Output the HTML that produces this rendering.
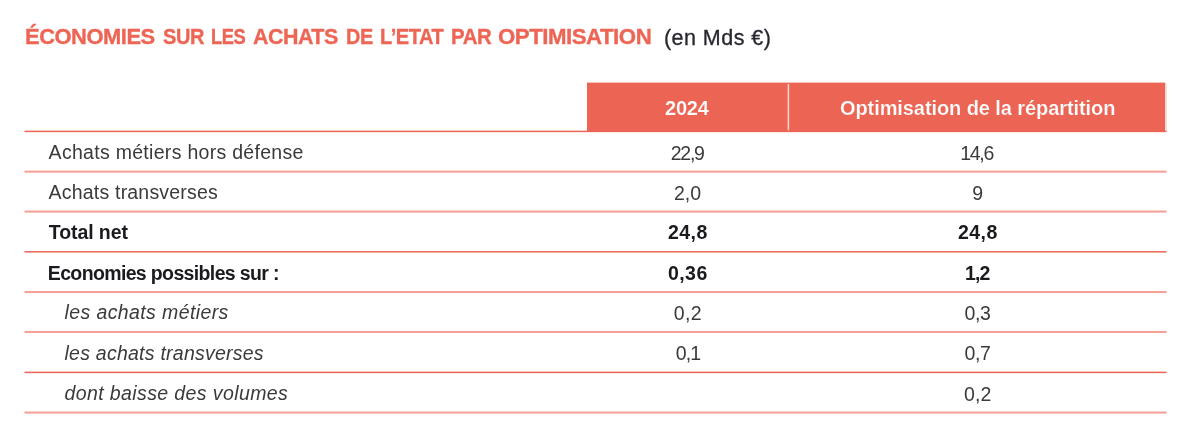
<!DOCTYPE html>
<html><head><meta charset="utf-8">
<style>
html,body{margin:0;padding:0;background:#fff;}
body{width:1200px;height:437px;position:relative;overflow:hidden;font-family:"Liberation Sans",sans-serif;}
svg{position:absolute;left:0;top:0;filter:blur(0.3px);}
.t{filter:blur(0.4px);}
.t{position:absolute;white-space:nowrap;line-height:20px;font-size:20px;color:#3a3a3d;}
.i{font-style:italic;}
.b{font-weight:bold;color:#1b1b1f;}
.h{color:#fff;font-weight:bold;-webkit-text-stroke:0.2px #ec6454;}
.tb{font-weight:bold;color:#ed6655;-webkit-text-stroke:0.35px #ed6655;}
.tu{color:#26262e;-webkit-text-stroke:0.3px #26262e;}
</style></head><body>
<svg width="1200" height="437" viewBox="0 0 1200 437">
<rect x="587" y="82.6" width="578.3" height="49" fill="#ec6454"/>
<rect x="1165.3" y="83.5" width="1.7" height="47" fill="#fbdcd7"/>
<rect x="787.6" y="84" width="1.6" height="46.5" fill="#f9cfc9"/>
<rect x="24.5" y="130.65" width="1142" height="1.5" fill="#ec6454"/>
<rect x="24.5" y="251.0" width="1142" height="1.6" fill="#ee6f5f"/>
<rect x="24.5" y="371.65" width="1142" height="1.5" fill="#ec6454"/>
<g fill="#f4a197">
<rect x="24.5" y="170.6" width="1142" height="2.1"/>
<rect x="24.5" y="210.5" width="1142" height="2.1"/>
<rect x="24.5" y="291.0" width="1142" height="2.1"/>
<rect x="24.5" y="330.9" width="1142" height="2.1"/>
<rect x="24.5" y="411.5" width="1142" height="2.1"/>
</g>
</svg>
<div class="t tb" style="left:25.08px;top:27px;font-size:22.5px;letter-spacing:-0.5px;transform:scaleX(0.9750);transform-origin:0 0;">ÉCONOMIES</div>
<div class="t tb" style="left:163.00px;top:27px;font-size:22.5px;letter-spacing:-0.5px;transform:scaleX(0.8891);transform-origin:0 0;">SUR</div>
<div class="t tb" style="left:211.09px;top:27px;font-size:22.5px;letter-spacing:-0.5px;transform:scaleX(0.8146);transform-origin:0 0;">LES</div>
<div class="t tb" style="left:253.20px;top:27px;font-size:22.5px;letter-spacing:-0.5px;transform:scaleX(0.9517);transform-origin:0 0;">ACHATS</div>
<div class="t tb" style="left:345.82px;top:27px;font-size:22.5px;letter-spacing:-0.5px;transform:scaleX(0.8828);transform-origin:0 0;">DE</div>
<div class="t tb" style="left:380.11px;top:27px;font-size:22.5px;letter-spacing:-0.5px;transform:scaleX(0.8908);transform-origin:0 0;">L’ETAT</div>
<div class="t tb" style="left:451.04px;top:27px;font-size:22.5px;letter-spacing:-0.5px;transform:scaleX(0.9081);transform-origin:0 0;">PAR</div>
<div class="t tb" style="left:498.30px;top:27px;font-size:22.5px;letter-spacing:-0.5px;transform:scaleX(0.9896);transform-origin:0 0;">OPTIMISATION</div>

<div class="t tu" style="left:663.90px;top:28.00px;font-size:21.5px;letter-spacing:0.480px;">(en Mds €)</div>
<div class="t h" style="left:665.10px;top:98.00px;font-size:20px;letter-spacing:-0.267px;">2024</div>
<div class="t h" style="left:840.00px;top:98.00px;font-size:20px;letter-spacing:-0.083px;">Optimisation de la répartition</div>
<div class="t r" style="left:48.60px;top:142.00px;font-size:19.5px;letter-spacing:0.295px;">Achats métiers hors défense</div>
<div class="t r" style="left:670.80px;top:143.00px;font-size:19.5px;letter-spacing:-1.273px;">22,9</div>
<div class="t r" style="left:960.20px;top:143.00px;font-size:19.5px;letter-spacing:-1.300px;">14,6</div>
<div class="t r" style="left:48.60px;top:182.00px;font-size:19.5px;letter-spacing:0.198px;">Achats transverses</div>
<div class="t r" style="left:674.10px;top:183.00px;font-size:19.5px;letter-spacing:-0.080px;">2,0</div>
<div class="t r" style="left:972.20px;top:183.00px;font-size:19.5px;letter-spacing:0.000px;">9</div>
<div class="t b" style="left:48.80px;top:222.00px;font-size:19.5px;letter-spacing:-0.080px;">Total net</div>
<div class="t b" style="left:668.00px;top:222.00px;font-size:19.5px;letter-spacing:0.427px;">24,8</div>
<div class="t b" style="left:958.00px;top:222.00px;font-size:19.5px;letter-spacing:0.427px;">24,8</div>
<div class="t b" style="left:47.80px;top:263.00px;font-size:19.5px;letter-spacing:-0.640px;">Economies possibles sur :</div>
<div class="t b" style="left:668.00px;top:263.00px;font-size:19.5px;letter-spacing:0.427px;">0,36</div>
<div class="t b" style="left:965.10px;top:263.00px;font-size:19.5px;letter-spacing:-0.900px;">1,2</div>
<div class="t i" style="left:64.50px;top:302.00px;font-size:19.5px;letter-spacing:0.395px;">les achats métiers</div>
<div class="t r" style="left:673.70px;top:303.00px;font-size:19.5px;letter-spacing:0.400px;">0,2</div>
<div class="t r" style="left:964.50px;top:303.00px;font-size:19.5px;letter-spacing:-0.320px;">0,3</div>
<div class="t i" style="left:64.50px;top:343.00px;font-size:19.5px;letter-spacing:0.244px;">les achats transverses</div>
<div class="t r" style="left:675.70px;top:343.00px;font-size:19.5px;letter-spacing:-0.900px;">0,1</div>
<div class="t r" style="left:964.50px;top:343.00px;font-size:19.5px;letter-spacing:-0.320px;">0,7</div>
<div class="t i" style="left:64.50px;top:383.00px;font-size:19.5px;letter-spacing:0.393px;">dont baisse des volumes</div>
<div class="t r" style="left:964.00px;top:384.00px;font-size:19.5px;letter-spacing:0.080px;">0,2</div>
</body></html>
